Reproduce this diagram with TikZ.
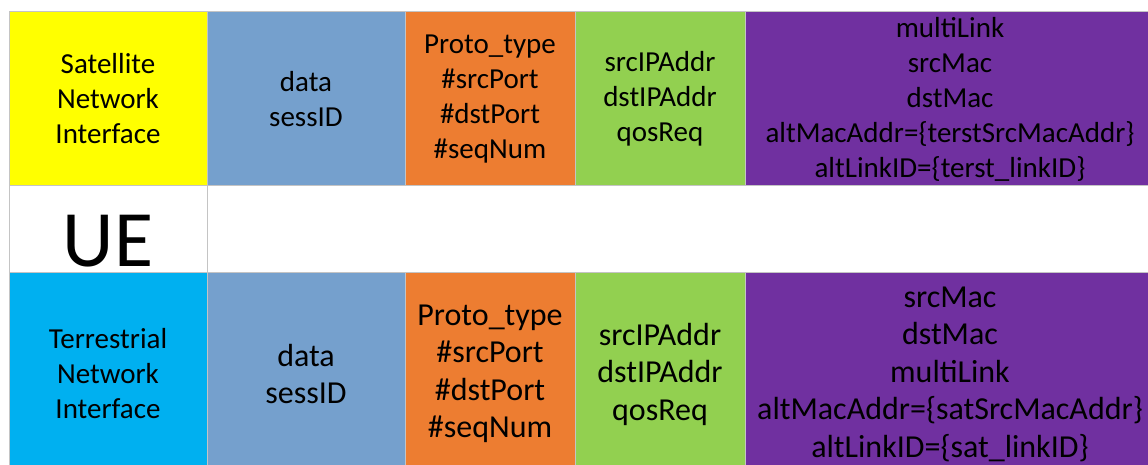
\documentclass[tikz,border=0pt]{standalone}
\usepackage{fontspec}
\setmainfont{Carlito}
\usetikzlibrary{positioning}
\definecolor{satyellow}{HTML}{FFFF00}
\definecolor{terblue}{HTML}{00B0F0}
\definecolor{sessblue}{HTML}{75A0CD}
\definecolor{portorange}{HTML}{ED7D31}
\definecolor{ipgreen}{HTML}{92D050}
\definecolor{macpurple}{HTML}{7030A0}
\definecolor{grid}{HTML}{C4C4C4}
\tikzset{
  cell/.style={
    draw=grid, line width=1pt, inner sep=0pt, outer sep=0pt,
    align=center, font=\fontsize{29}{35}\selectfont
  },
  bigcell/.style={cell, font=\fontsize{32}{37.5}\selectfont},
  toprow/.style={minimum height=174pt},
  midrow/.style={minimum height=86pt},
  botrow/.style={minimum height=204pt}
}

\begin{document}
\begin{tikzpicture}[x=1pt, y=1pt]
  \useasboundingbox (0,0) rectangle (1148,-465);
  \clip (0,0) rectangle (1148,-465);
  % satellite side
  \node[cell, toprow, fill=satyellow, minimum width=198pt, anchor=north west] (sat) at (9,-12) {Satellite\\Network\\Interface};
  \node[cell, toprow, fill=sessblue, minimum width=198pt, right=0pt of sat] (satsess) {data\\sessID};
  \node[cell, toprow, fill=portorange, minimum width=170pt, right=0pt of satsess] (satport) {Proto\_type\\\#srcPort\\\#dstPort\\\#seqNum};
  \node[cell, toprow, fill=ipgreen, minimum width=170pt, right=0pt of satport] (satip) {srcIPAddr\\dstIPAddr\\qosReq};
  \node[cell, toprow, fill=macpurple, minimum width=410pt, right=0pt of satip] (satmac) {multiLink\\srcMac\\dstMac\\altMacAddr=\{terstSrcMacAddr\}\\altLinkID=\{terst\_linkID\}};
  % UE row
  \node[cell, midrow, fill=white, minimum width=198pt, below=0pt of sat,
        font=\fontsize{80}{80}\selectfont, text height=74pt, text depth=0pt] (ue) {UE};
  \node[cell, midrow, fill=white, minimum width=950pt, right=0pt of ue] (blank) {};
  % terrestrial side
  \node[cell, botrow, fill=terblue, minimum width=198pt, below=0pt of ue] (ter) {Terrestrial\\Network\\Interface};
  \node[bigcell, botrow, fill=sessblue, minimum width=198pt, right=0pt of ter] (tersess) {data\\sessID};
  \node[bigcell, botrow, fill=portorange, minimum width=170pt, right=0pt of tersess] (terport) {Proto\_type\\\#srcPort\\\#dstPort\\\#seqNum};
  \node[bigcell, botrow, fill=ipgreen, minimum width=170pt, right=0pt of terport] (terip) {srcIPAddr\\dstIPAddr\\qosReq};
  \node[bigcell, botrow, fill=macpurple, minimum width=410pt, right=0pt of terip] (termac) {srcMac\\dstMac\\multiLink\\altMacAddr=\{satSrcMacAddr\}\\altLinkID=\{sat\_linkID\}};
\end{tikzpicture}
\end{document}
